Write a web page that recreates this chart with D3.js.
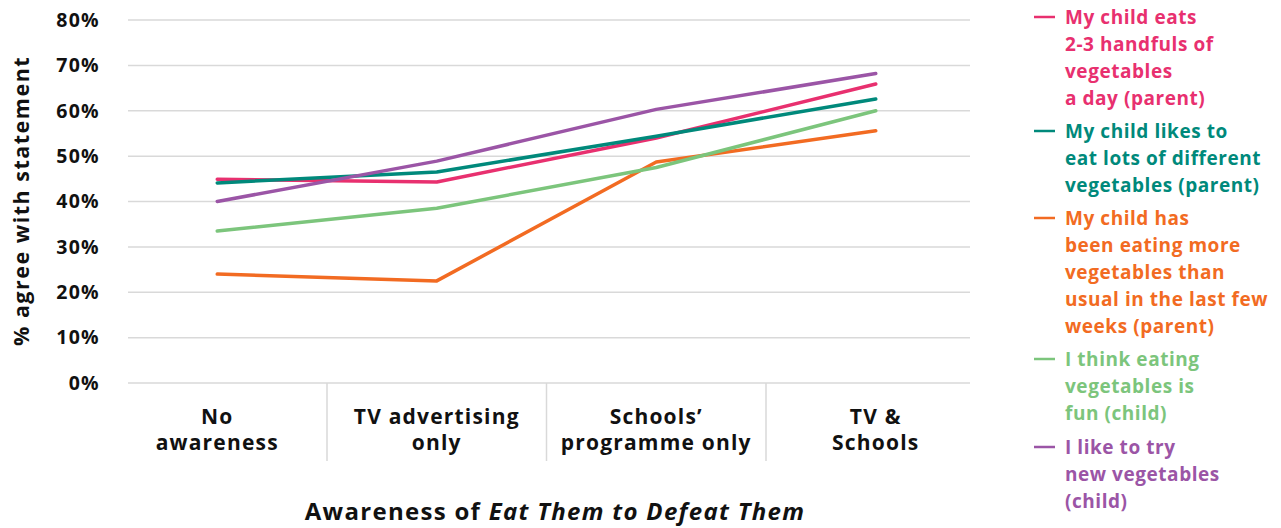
<!DOCTYPE html>
<meta charset="utf-8">
<script src="https://d3js.org/d3.v7.min.js"></script>
<style>
  body { margin: 0; background: #fff; }
  text { font-family: "Open Sans", "Noto Sans", sans-serif; font-weight: bold; }
</style>
<body>
<div id="chart"></div>
<script>
// categories along the x axis
var categories = [["No", "awareness"], ["TV advertising", "only"], ["Schools\u2019", "programme only"], ["TV &", "Schools"]];
var yTicks = [0, 10, 20, 30, 40, 50, 60, 70, 80];

// series (percent agreeing)
var seriesNames = [
  ["My child eats", "2-3 handfuls of", "vegetables", "a day (parent)"],
  ["My child likes to", "eat lots of different", "vegetables (parent)"],
  ["My child has", "been eating more", "vegetables than", "usual in the last few", "weeks (parent)"],
  ["I think eating", "vegetables is", "fun (child)"],
  ["I like to try", "new vegetables", "(child)"]
];
var seriesColors = ["#e8306f", "#00897b", "#f26b22", "#7cc57c", "#9b55a6"];
var handfuls   = [44.9, 44.3, 54.0, 65.9];
var likesLots  = [44.1, 46.5, 54.4, 62.6];
var eatingMore = [24.0, 22.5, 48.7, 55.6];
var funChild   = [33.5, 38.5, 47.5, 60.0];
var tryNew     = [40.0, 48.9, 60.3, 68.2];
var seriesValues = [handfuls, likesLots, eatingMore, funChild, tryNew];

var W = 1281, H = 528;
var svg = d3.select("#chart").append("svg").attr("width", W).attr("height", H);

var x = d3.scaleBand().domain(d3.range(categories.length)).range([107.5, 985.5]);
var y = d3.scaleLinear().domain([0, 80]).range([383, 20]);

// gridlines
svg.append("g").selectAll("line").data(yTicks).enter().append("line")
  .attr("x1", 128).attr("x2", 970)
  .attr("y1", function(d) { return y(d); }).attr("y2", function(d) { return y(d); })
  .attr("stroke", "#d9d9d9").attr("stroke-width", 1.5);

// y tick labels
svg.append("g").selectAll("text").data(yTicks).enter().append("text")
  .attr("x", 100).attr("y", function(d) { return y(d); })
  .attr("dy", "0.35em").attr("text-anchor", "end")
  .style("font-size", "19.5px").style("letter-spacing", "1.3px").attr("fill", "#111")
  .text(function(d) { return d + "%"; });

// category dividers
svg.append("g").selectAll("line").data(d3.range(1, categories.length)).enter().append("line")
  .attr("x1", function(d) { return x(d); }).attr("x2", function(d) { return x(d); })
  .attr("y1", 383).attr("y2", 461)
  .attr("stroke", "#d9d9d9").attr("stroke-width", 1.5);

// category labels
var cat = svg.append("g").selectAll("text").data(categories).enter().append("text")
  .attr("text-anchor", "middle").style("font-size", "21px").style("letter-spacing", "1.2px").attr("fill", "#111");
cat.selectAll("tspan").data(function(d, i) { return d.map(function(t) { return {t: t, i: i}; }); })
  .enter().append("tspan")
  .attr("x", function(d) { return x(d.i) + x.bandwidth() / 2; })
  .attr("y", function(d, j) { return 424 + j * 26; })
  .text(function(d) { return d.t; });

// lines
var line = d3.line()
  .x(function(d, i) { return x(i) + x.bandwidth() / 2; })
  .y(function(d) { return y(d); });
svg.append("g").selectAll("path").data(seriesValues).enter().append("path")
  .attr("d", line).attr("fill", "none")
  .attr("stroke", function(d, i) { return seriesColors[i]; })
  .attr("stroke-width", 3.5).attr("stroke-linecap", "round").attr("stroke-linejoin", "round");

// y axis title
svg.append("text")
  .attr("transform", "translate(29,201) rotate(-90)")
  .attr("text-anchor", "middle").style("font-size", "21.5px").style("letter-spacing", "1.5px").attr("fill", "#111")
  .text("%  agree with statement");

// x axis title
var xt = svg.append("text").attr("x", 555).attr("y", 520)
  .attr("text-anchor", "middle").style("font-size", "24px").style("letter-spacing", "1.3px").attr("fill", "#111");
xt.append("tspan").text("Awareness of ");
xt.append("tspan").style("font-style", "italic").text("Eat Them to Defeat Them");

// legend
var legendTop = [17, 131, 218, 359, 447];
var leg = svg.append("g").selectAll("g").data(seriesNames).enter().append("g");
leg.append("line")
  .attr("x1", 1034).attr("x2", 1055)
  .attr("y1", function(d, i) { return legendTop[i]; }).attr("y2", function(d, i) { return legendTop[i]; })
  .attr("stroke", function(d, i) { return seriesColors[i]; }).attr("stroke-width", 2.5);
leg.append("text")
  .attr("fill", function(d, i) { return seriesColors[i]; })
  .style("font-size", "19px").style("letter-spacing", "0.55px")
  .each(function(d, i) {
    d3.select(this).selectAll("tspan").data(d).enter().append("tspan")
      .attr("x", 1065)
      .attr("y", function(t, j) { return legendTop[i] + j * 27; })
      .attr("dy", "0.35em")
      .text(function(t) { return t; });
  });
</script>
</body>
